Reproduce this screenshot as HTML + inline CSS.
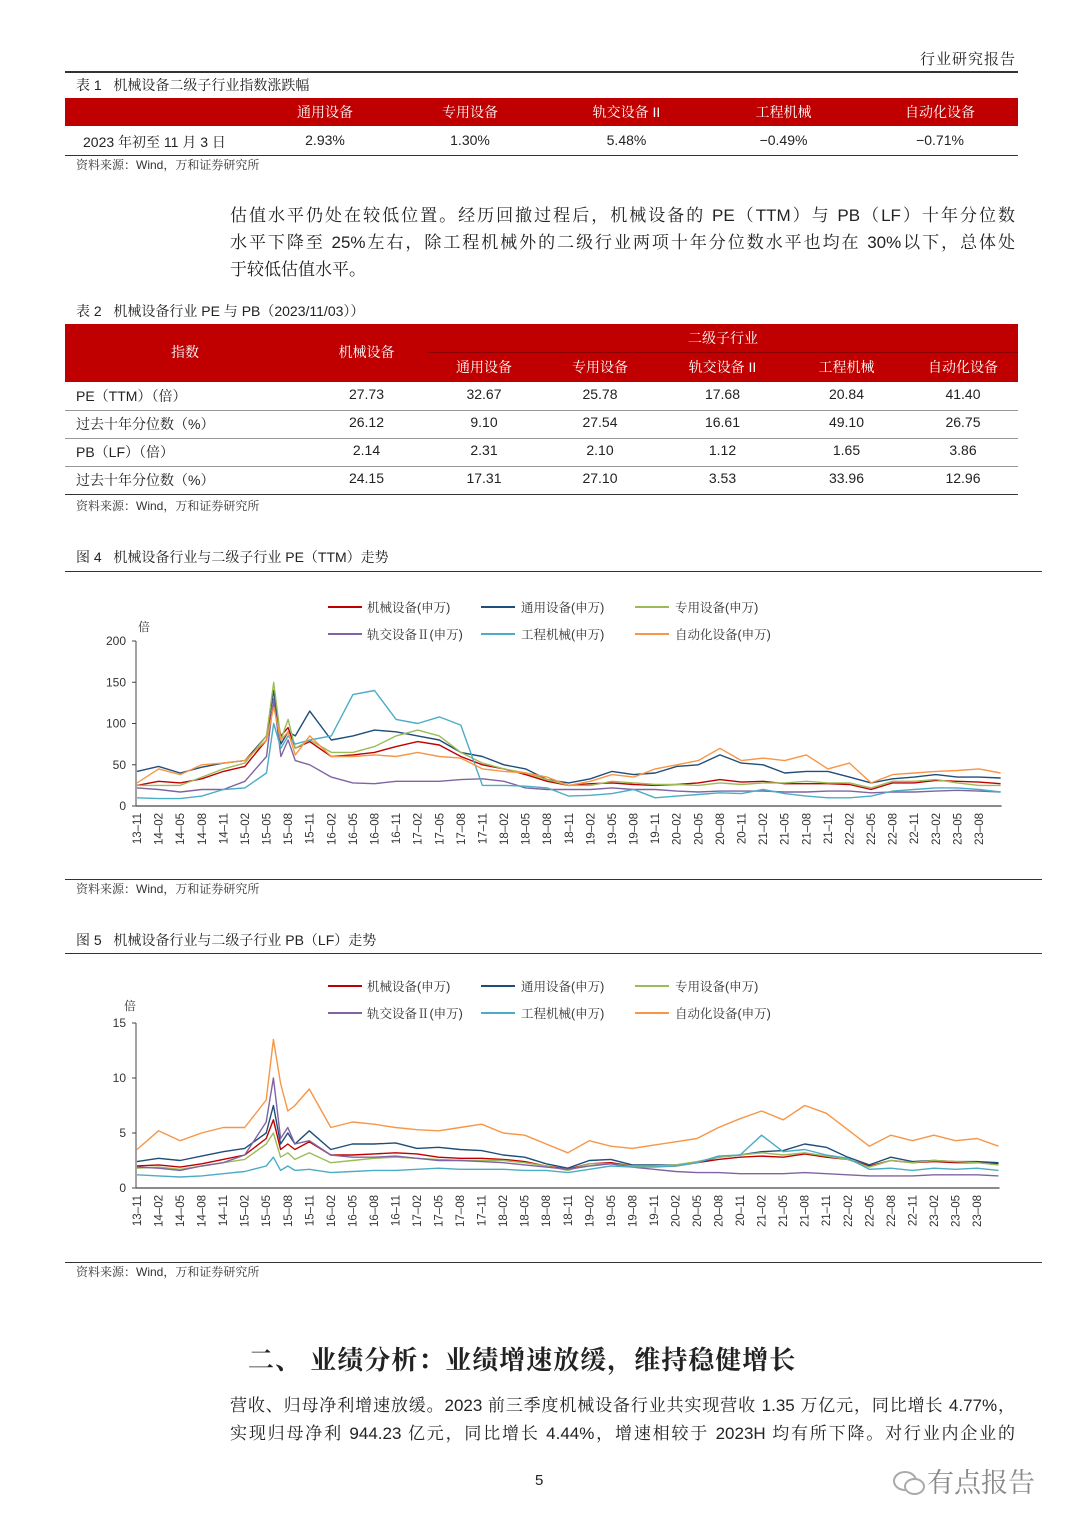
<!DOCTYPE html>
<html lang="zh">
<head>
<meta charset="utf-8">
<style>
  html,body{margin:0;padding:0;background:#fff;}
  body{width:1080px;height:1527px;position:relative;overflow:hidden;
    font-family:"Liberation Sans","Noto Serif CJK SC","Noto Sans CJK SC",serif;color:#222;}
  .a{position:absolute;white-space:nowrap;}
  .cap{font-size:14px;line-height:16px;}
  .src{font-size:12px;line-height:14px;color:#333;}
  .pl{position:absolute;font-size:17px;line-height:20px;white-space:nowrap;}
  .j{text-align:justify;text-align-last:justify;}
  .hr{position:absolute;background:#333;height:1px;}
  .redrow{position:absolute;background:#c00000;}
  .th{position:absolute;color:#fff;font-size:14px;text-align:center;}
  .td{position:absolute;font-size:14px;text-align:center;}
  .tdl{position:absolute;font-size:14px;text-align:left;}
  .gl{position:absolute;background:#999;height:1px;}
</style>
</head>
<body>
<div class="a" style="right:64px;top:48px;font-size:15px;letter-spacing:1px;">行业研究报告</div>
<div class="hr" style="left:65px;top:71px;width:953px;height:2px;"></div>

<!-- Table 1 -->
<div class="a cap" style="left:76px;top:77px;">表 1&nbsp;&nbsp; 机械设备二级子行业指数涨跌幅</div>
<div class="redrow" style="left:65px;top:98px;width:953px;height:28px;"></div>
<div class="th" style="left:258px;top:102px;width:134px;">通用设备</div>
<div class="th" style="left:392px;top:102px;width:156px;">专用设备</div>
<div class="th" style="left:548px;top:102px;width:157px;">轨交设备 II</div>
<div class="th" style="left:705px;top:102px;width:157px;">工程机械</div>
<div class="th" style="left:862px;top:102px;width:156px;">自动化设备</div>
<div class="tdl" style="left:83px;top:132px;">2023 年初至 11 月 3 日</div>
<div class="td" style="left:258px;top:132px;width:134px;">2.93%</div>
<div class="td" style="left:392px;top:132px;width:156px;">1.30%</div>
<div class="td" style="left:548px;top:132px;width:157px;">5.48%</div>
<div class="td" style="left:705px;top:132px;width:157px;">−0.49%</div>
<div class="td" style="left:862px;top:132px;width:156px;">−0.71%</div>
<div class="hr" style="left:65px;top:155px;width:953px;"></div>
<div class="a src" style="left:76px;top:158px;">资料来源：Wind，万和证券研究所</div>

<div>
<div class="pl j" style="left:230px;top:206px;width:785px;">估值水平仍处在较低位置。经历回撤过程后，机械设备的 PE（TTM）与 PB（LF）十年分位数</div>
<div class="pl j" style="left:230px;top:233px;width:785px;">水平下降至 25%左右，除工程机械外的二级行业两项十年分位数水平也均在 30%以下，总体处</div>
<div class="pl" style="left:230px;top:260px;">于较低估值水平。</div>
</div>

<!-- Table 2 -->
<div class="a cap" style="left:76px;top:303px;">表 2&nbsp;&nbsp; 机械设备行业 PE 与 PB（2023/11/03））</div>
<div class="redrow" style="left:65px;top:324px;width:953px;height:58px;"></div>
<div style="position:absolute;left:428px;top:352px;width:590px;height:1px;background:#8a0000;"></div>
<div class="th" style="left:65px;top:342px;width:240px;">指数</div>
<div class="th" style="left:305px;top:342px;width:123px;">机械设备</div>
<div class="th" style="left:428px;top:328px;width:590px;">二级子行业</div>
<div class="th" style="left:428px;top:357px;width:112px;">通用设备</div>
<div class="th" style="left:540px;top:357px;width:120px;">专用设备</div>
<div class="th" style="left:660px;top:357px;width:125px;">轨交设备 II</div>
<div class="th" style="left:785px;top:357px;width:123px;">工程机械</div>
<div class="th" style="left:908px;top:357px;width:110px;">自动化设备</div>
<div id="t2body"></div>
<div class="hr" style="left:65px;top:494px;width:953px;"></div>
<div class="a src" style="left:76px;top:499px;">资料来源：Wind，万和证券研究所</div>

<!-- Figure 4 -->
<div class="a cap" style="left:76px;top:549px;">图 4&nbsp;&nbsp; 机械设备行业与二级子行业 PE（TTM）走势</div>
<div class="hr" style="left:65px;top:571px;width:977px;"></div>
<div class="hr" style="left:65px;top:879px;width:977px;"></div>
<div class="a src" style="left:76px;top:882px;">资料来源：Wind，万和证券研究所</div>

<!-- Figure 5 -->
<div class="a cap" style="left:76px;top:932px;">图 5&nbsp;&nbsp; 机械设备行业与二级子行业 PB（LF）走势</div>
<div class="hr" style="left:65px;top:953px;width:977px;"></div>
<div class="hr" style="left:65px;top:1262px;width:977px;"></div>
<div class="a src" style="left:76px;top:1265px;">资料来源：Wind，万和证券研究所</div>

<svg id="charts" style="position:absolute;left:0;top:0;" width="1080" height="1527" font-family="Liberation Sans, Noto Serif CJK SC, sans-serif"></svg>

<div class="a" style="left:248px;top:1340px;font-size:26px;font-weight:bold;letter-spacing:1px;">二、 业绩分析：业绩增速放缓，维持稳健增长</div>
<div>
<div class="pl j" style="left:230px;top:1396px;width:785px;">营收、归母净利增速放缓。2023 前三季度机械设备行业共实现营收 1.35 万亿元，同比增长 4.77%，</div>
<div class="pl j" style="left:230px;top:1424px;width:785px;">实现归母净利 944.23 亿元，同比增长 4.44%，增速相较于 2023H 均有所下降。对行业内企业的</div>
</div>
<div class="a" style="left:535px;top:1472px;font-size:15px;">5</div>
<div class="a" style="left:893px;top:1461px;font-size:27px;color:#888;">
<span style="display:inline-block;width:34px;height:26px;position:relative;vertical-align:-3px;">
<span style="position:absolute;left:0;top:2px;width:20px;height:16px;border:2px solid #aaa;border-radius:50%;"></span>
<span style="position:absolute;left:11px;top:9px;width:17px;height:13px;border:2px solid #aaa;border-radius:50%;background:#fff;"></span>
</span>有点报告</div>

<script>
// ---------- Table 2 data ----------
const t2Rows = ["PE（TTM）（倍）","过去十年分位数（%）","PB（LF）（倍）","过去十年分位数（%）"];
const t2Values = [
  ["27.73","32.67","25.78","17.68","20.84","41.40"],
  ["26.12","9.10","27.54","16.61","49.10","26.75"],
  ["2.14","2.31","2.10","1.12","1.65","3.86"],
  ["24.15","17.31","27.10","3.53","33.96","12.96"]
];
const t2ColL = [305,428,540,660,785,908,1018];
(function(){
  const host = document.getElementById('t2body');
  t2Rows.forEach((r,i)=>{
    const top = 382 + i*28;
    const lab = document.createElement('div');
    lab.className='tdl'; lab.style.left='76px'; lab.style.top=(top+4)+'px'; lab.textContent=r;
    
    
    host.appendChild(lab);
    t2Values[i].forEach((v,j)=>{
      const d=document.createElement('div');
      d.className='td'; d.style.left=t2ColL[j]+'px'; d.style.width=(t2ColL[j+1]-t2ColL[j])+'px';
      d.style.top=(top+4)+'px'; d.textContent=v;
      
      
      host.appendChild(d);
    });
    if(i<3){
      const g=document.createElement('div');
      g.className='gl'; g.style.left='65px'; g.style.width='953px'; g.style.top=(top+28)+'px';
      
      
      host.appendChild(g);
    }
  });
})();

// ---------- Chart data ----------
// month offsets from 2013-11
const months = [0,3,6,9,12,15,18,19,20,21,22,24,27,30,33,36,39,42,45,48,51,54,57,60,63,66,69,72,75,78,81,84,87,90,93,96,99,102,105,108,111,114,117,120];
const xTickLabels = ["13–11","14–02","14–05","14–08","14–11","15–02","15–05","15–08","15–11","16–02","16–05","16–08","16–11","17–02","17–05","17–08","17–11","18–02","18–05","18–08","18–11","19–02","19–05","19–08","19–11","20–02","20–05","20–08","20–11","21–02","21–05","21–08","21–11","22–02","22–05","22–08","22–11","23–02","23–05","23–08"];
const seriesNames = ["机械设备(申万)","通用设备(申万)","专用设备(申万)","轨交设备Ⅱ(申万)","工程机械(申万)","自动化设备(申万)"];
const seriesColors = ["#c00000","#1f4e79","#9bbb59","#8064a2","#4bacc6","#f79646"];

const peTicks = [0,50,100,150,200];
const peJixie = [25,30,28,33,42,48,80,125,85,95,70,78,60,62,65,72,78,74,60,50,45,38,30,25,27,28,26,25,26,28,32,29,30,27,27,27,26,20,28,28,31,30,29,27];
const peTongyong = [42,48,40,47,52,55,85,140,75,90,85,115,80,85,92,90,85,80,65,60,50,45,32,28,33,42,38,40,48,50,62,52,50,40,42,42,35,28,33,35,38,35,35,34];
const peZhuanyong = [25,25,25,35,45,52,85,150,80,105,70,80,65,65,72,85,92,85,65,52,45,40,32,25,25,30,28,26,26,25,28,26,28,28,30,28,28,22,30,30,32,28,25,25];
const peGuijiao = [22,20,17,20,20,30,60,130,60,80,55,50,35,28,27,30,30,30,32,33,30,22,20,20,20,22,20,20,18,17,18,18,18,17,17,18,18,16,17,17,18,19,18,17];
const peGongcheng = [10,9,9,12,20,22,40,100,70,85,75,80,85,135,140,105,100,108,98,25,25,24,22,12,13,15,20,10,12,14,16,15,20,15,12,10,10,12,18,20,22,22,20,17];
const peZidonghua = [28,45,38,50,52,55,80,120,80,90,62,85,60,60,62,60,65,60,58,45,42,40,35,25,30,38,35,45,50,55,70,55,58,55,62,45,52,28,38,40,42,43,45,40];

const pbTicks = [0,5,10,15];
const pbJixie = [2.0,2.1,1.9,2.2,2.6,3.0,4.5,6.2,3.5,4,3.5,4.2,3,3,3.1,3.2,3.1,2.8,2.7,2.7,2.6,2.4,2,1.7,2.2,2.3,2,2,2,2.3,2.6,2.8,2.9,2.8,3.1,2.8,2.6,2,2.5,2.3,2.4,2.3,2.3,2.2];
const pbTongyong = [2.4,2.7,2.5,2.9,3.3,3.6,5,7.5,4,5,4,5.2,3.5,4,4,4.1,3.6,3.7,3.5,3.4,3,2.8,2.2,1.8,2.5,2.6,2.1,2.1,2.1,2.3,2.8,3,3.3,3.4,4,3.7,2.8,2.1,2.8,2.4,2.5,2.4,2.4,2.3];
const pbZhuanyong = [1.8,1.9,1.7,2,2.3,2.6,4,5,2.8,3.2,2.6,3.2,2.3,2.5,2.7,2.8,2.7,2.6,2.5,2.5,2.5,2.3,2,1.6,2.2,2.2,2,2,2.1,2.4,2.8,3,3.2,3,3.2,2.9,2.6,1.9,2.5,2.3,2.5,2.4,2.3,2.1];
const pbGuijiao = [1.9,1.8,1.6,2,2.3,3,6,10,4.5,5.5,4,4.3,3,2.8,2.8,2.9,2.7,2.5,2.5,2.4,2.3,2.1,1.9,1.7,2,2.2,1.9,1.7,1.5,1.4,1.4,1.3,1.3,1.3,1.4,1.3,1.2,1.1,1.1,1.1,1.2,1.2,1.2,1.1];
const pbGongcheng = [1.2,1.1,1,1.1,1.3,1.5,2,2.8,1.6,2,1.6,1.7,1.4,1.5,1.6,1.6,1.7,1.8,1.7,1.7,1.7,1.6,1.6,1.4,1.7,2,1.9,1.9,2,2.3,2.9,3,4.8,3.3,3.5,3,2.7,1.7,1.8,1.6,1.8,1.7,1.8,1.6];
const pbZidonghua = [3.5,5.2,4.3,5.0,5.5,5.5,8.0,13.5,9.5,7,7.5,9,5.5,6,5.8,5.5,5.3,5.2,5.5,5.8,5,4.8,4,3.2,4.3,3.8,3.6,3.9,4.2,4.5,5.5,6.3,7,6.2,7.5,6.8,5.3,3.8,4.8,4.3,4.8,4.3,4.5,3.8];

const NS='http://www.w3.org/2000/svg';
const svg=document.getElementById('charts');
function mk(tag,attrs,parent){const e=document.createElementNS(NS,tag);for(const k in attrs)e.setAttribute(k,attrs[k]);(parent||svg).appendChild(e);return e;}

function drawChart(cfg){
  const g=mk('g',{});
  
  
  const x=m=>cfg.x0+m*(cfg.x1-cfg.x0)/117;
  const y=v=>cfg.y0-(v/cfg.ymax)*(cfg.y0-cfg.yTop);
  const ya=mk('line',{x1:cfg.x0-1,y1:cfg.yTop,x2:cfg.x0-1,y2:cfg.y0,stroke:'#444','stroke-width':1},g);
  
  
  const xa=mk('line',{x1:cfg.x0-1,y1:cfg.y0,x2:x(120)+1,y2:cfg.y0,stroke:'#444','stroke-width':1.2},g);
  
  
  cfg.ticks.forEach(t=>{
    const tl=mk('text',{x:cfg.x0-11,y:y(t)+4,'text-anchor':'end','font-size':12,fill:'#333'},g);
    tl.textContent=t;
    
    
    mk('line',{x1:cfg.x0-5,y1:y(t),x2:cfg.x0-1,y2:y(t),stroke:'#444'},g);
  });
  const u=mk('text',{x:cfg.unitX,y:cfg.unitY,'font-size':12,fill:'#333'},g);
  u.textContent='倍';
  
  
  xTickLabels.forEach((lab,i)=>{
    const px=x(i*3)+4;
    const t=mk('text',{x:px,y:cfg.y0+7,'text-anchor':'end','font-size':11.5,fill:'#333',transform:`rotate(-90 ${px} ${cfg.y0+7})`},g);
    t.textContent=lab;
    
    
  });
  cfg.series.forEach((s,si)=>{
    const d=s.map((v,i)=>(i?'L':'M')+x(months[i]).toFixed(1)+' '+y(v).toFixed(1)).join(' ');
    const p=mk('path',{d:d,fill:'none',stroke:seriesColors[si],'stroke-width':1.4,'stroke-linejoin':'round'},g);
    
    
  });
  const lx=[328,481,635], tx=[367,521,675];
  seriesNames.forEach((n,i)=>{
    const col=i%3,row=Math.floor(i/3);
    const ly=cfg.legY+row*27;
    const ln=mk('line',{x1:lx[col],y1:ly,x2:lx[col]+34,y2:ly,stroke:seriesColors[i],'stroke-width':2},g);
    
    
    const tt=mk('text',{x:tx[col],y:ly+5,'font-size':12.5,fill:'#333'},g);
    tt.textContent=n;
    
    
  });
}
drawChart({name:'pe-chart',x0:137,x1:979,y0:806,yTop:641,ymax:200,ticks:peTicks,unitX:138,unitY:631,legY:607,
  series:[peJixie,peTongyong,peZhuanyong,peGuijiao,peGongcheng,peZidonghua]});
drawChart({name:'pb-chart',x0:137,x1:977,y0:1188,yTop:1023,ymax:15,ticks:pbTicks,unitX:124,unitY:1010,legY:986,
  series:[pbJixie,pbTongyong,pbZhuanyong,pbGuijiao,pbGongcheng,pbZidonghua]});
</script>
</body>
</html>
